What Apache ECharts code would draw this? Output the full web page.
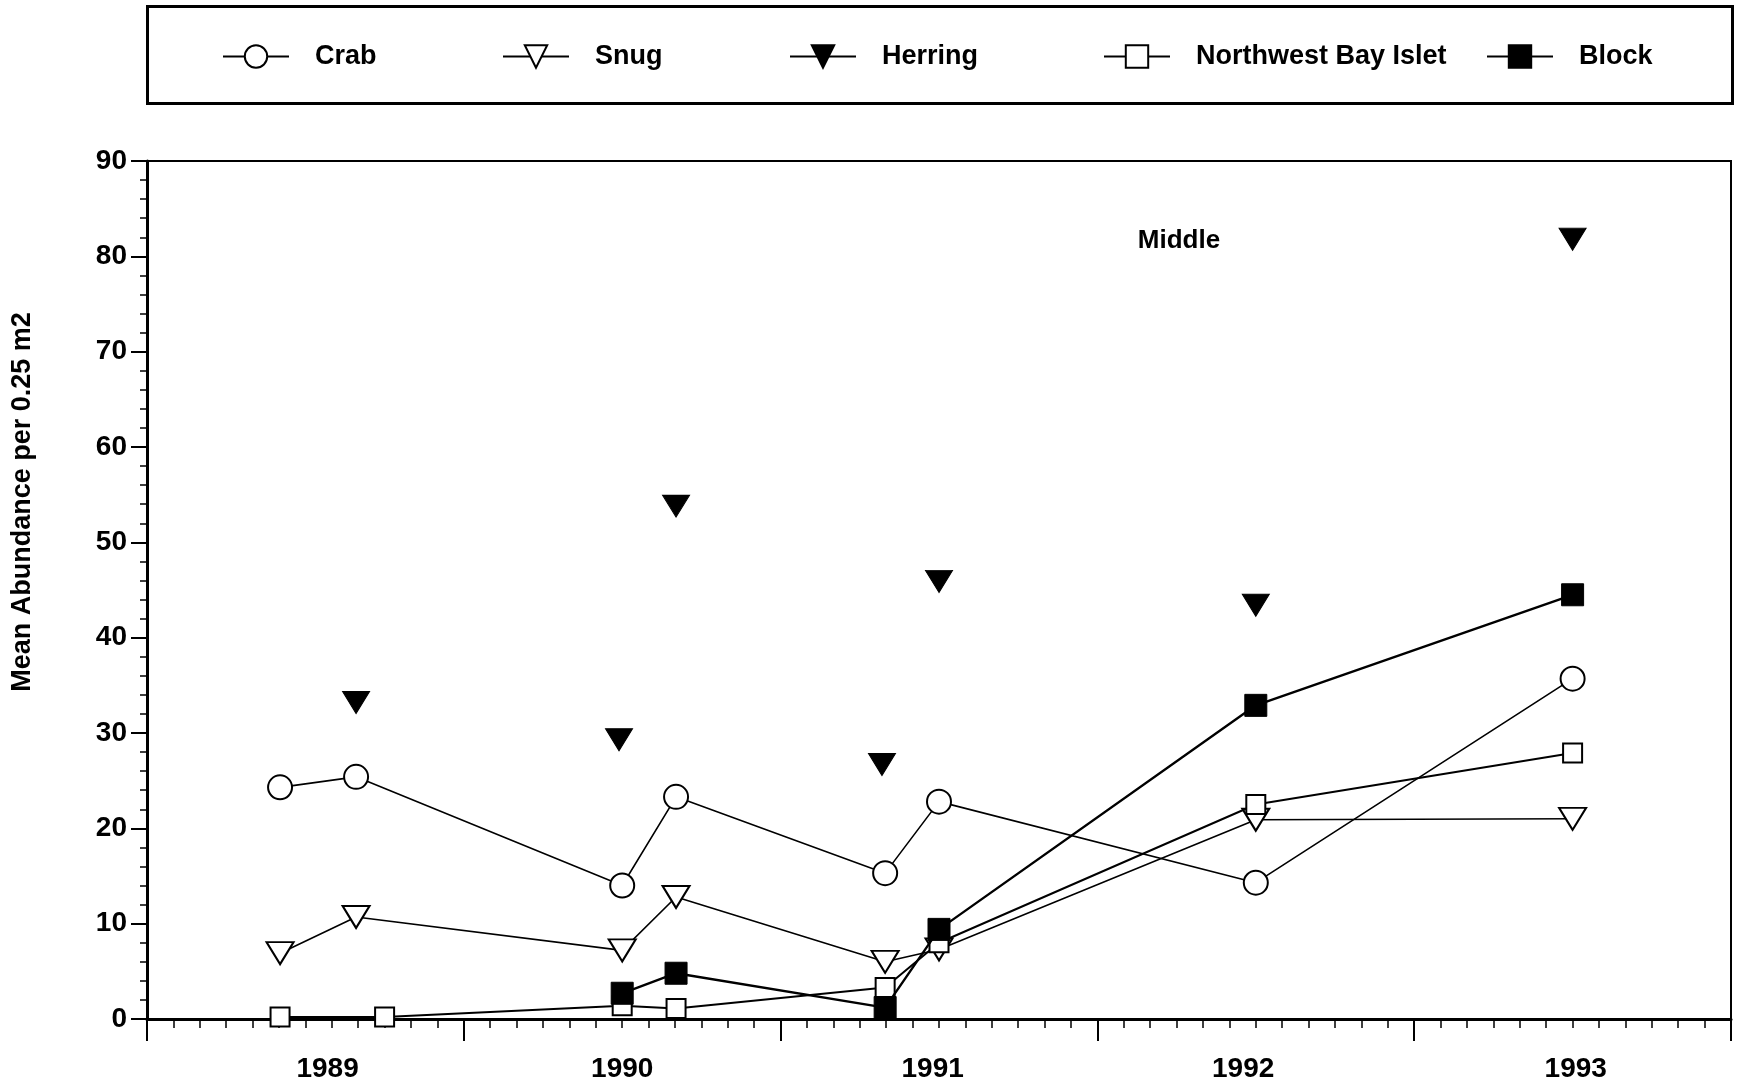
<!DOCTYPE html>
<html><head><meta charset="utf-8">
<script src="https://cdn.jsdelivr.net/npm/echarts@6/dist/echarts.min.js"></script>
<style>html,body{margin:0;padding:0;background:#fff}#c{width:1739px;height:1088px}</style>
</head><body><div id="c"></div>
<script>
// ---- data ----
const yearLabels = ['1989', '1990', '1991', '1992', '1993'];
const yearLabelAt = [1989.57, 1990.5, 1991.48, 1992.46, 1993.51];
const yTicks = [0, 10, 20, 30, 40, 50, 60, 70, 80, 90];

const crabX = [1989.42, 1989.66, 1990.5, 1990.67, 1991.33, 1991.5, 1992.5, 1993.5];
const crab  = [24.3, 25.4, 14.0, 23.3, 15.3, 22.8, 14.3, 35.7];

const snugX = [1989.42, 1989.66, 1990.5, 1990.67, 1991.33, 1991.5, 1992.5, 1993.5];
const snug  = [6.9, 10.7, 7.2, 12.8, 6.0, 7.3, 20.9, 21.0];

const herringX = [1989.66, 1990.49, 1990.67, 1991.32, 1991.5, 1992.5, 1993.5];
const herring  = [33.2, 29.3, 53.8, 26.7, 45.9, 43.4, 81.8];

const nwX = [1989.42, 1989.75, 1990.5, 1990.67, 1991.33, 1991.5, 1992.5, 1993.5];
const nw  = [0.2, 0.2, 1.4, 1.1, 3.3, 8.0, 22.5, 27.9];

const blockX = [1990.5, 1990.67, 1991.33, 1991.5, 1992.5, 1993.5];
const block  = [2.7, 4.8, 1.2, 9.4, 32.9, 44.5];

const zip = (xs, ys) => xs.map((x, i) => [x, ys[i]]);

const FONT = '"Liberation Sans", Arial, Helvetica, sans-serif';
const chart = echarts.init(document.getElementById('c'), null, {renderer: 'canvas'});

function legendAt(name, left, extra) {
  return Object.assign({
    data: [name], left: left, top: 38, padding: 0, orient: 'horizontal',
    itemWidth: 66, itemHeight: 28, selectedMode: false,
    textStyle: {fontFamily: FONT, fontSize: 27, fontWeight: 'bold', color: '#000', padding: [0, 0, 0, 21]}
  }, extra || {});
}

const option = {
  animation: false,
  backgroundColor: '#fff',
  grid: {left: 147, right: 8, top: 161, bottom: 69, show: true, borderColor: '#000', borderWidth: 2, backgroundColor: 'transparent'},
  legend: [
    legendAt('Crab', 222),
    legendAt('Snug', 502),
    legendAt('Herring', 789, {data: [{name: 'Herring', lineStyle: {opacity: 1, color: '#000', width: 2}}]}),
    legendAt('Northwest Bay Islet', 1103),
    legendAt('Block', 1486)
  ],
  graphic: [
    {type: 'rect', left: 145, top: 4, shape: {width: 1585, height: 97}, style: {fill: 'none', stroke: '#000', lineWidth: 3}, silent: true},
    {type: 'text', x: 1179, y: 241, style: {text: 'Middle', font: 'bold 26px ' + FONT, fill: '#000', align: 'center', verticalAlign: 'middle'}},
    {type: 'text', x: 23, y: 502, rotation: Math.PI / 2, style: {text: 'Mean Abundance per 0.25 m2', font: 'bold 27px ' + FONT, fill: '#000', align: 'center', verticalAlign: 'middle'}}
  ],
  xAxis: {
    type: 'value', min: 1989, max: 1994, interval: 1,
    axisLine: {show: true, lineStyle: {color: '#000', width: 3}},
    axisTick: {show: true, inside: false, length: 22, lineStyle: {color: '#000', width: 2}},
    minorTick: {show: true, splitNumber: 12, length: 9, lineStyle: {color: '#000', width: 1.5}},
    splitLine: {show: false},
    axisLabel: {
      customValues: yearLabelAt,
      formatter: (v) => { const i = yearLabelAt.findIndex(p => Math.abs(p - v) < 1e-6); return i >= 0 ? yearLabels[i] : ''; },
      margin: 36, fontFamily: FONT, fontSize: 28, fontWeight: 'bold', color: '#000'
    }
  },
  yAxis: {
    type: 'value', min: 0, max: 90, interval: 10,
    axisLine: {show: true, lineStyle: {color: '#000', width: 3}},
    axisTick: {show: true, inside: false, length: 16, lineStyle: {color: '#000', width: 2}},
    minorTick: {show: true, splitNumber: 5, length: 7, lineStyle: {color: '#000', width: 1.5}},
    splitLine: {show: false},
    axisLabel: {
      formatter: (v) => yTicks.includes(v) ? String(v) : '',
      margin: 20, fontFamily: FONT, fontSize: 28, fontWeight: 'bold', color: '#000'
    }
  },
  series: [
    {name: 'Crab', type: 'line', data: zip(crabX, crab), symbol: 'circle', symbolSize: 24,
     itemStyle: {color: '#fff', borderColor: '#000', borderWidth: 2}, lineStyle: {color: '#000', width: 1.6}, z: 2},
    {name: 'Snug', type: 'line', data: zip(snugX, snug), symbol: 'triangle', symbolRotate: 180, symbolSize: [27, 22],
     itemStyle: {color: '#fff', borderColor: '#000', borderWidth: 2}, lineStyle: {color: '#000', width: 1.6}, z: 3},
    {name: 'Herring', type: 'line', data: zip(herringX, herring), symbol: 'triangle', symbolRotate: 180, symbolSize: [27, 22],
     itemStyle: {color: '#000', borderColor: '#000', borderWidth: 1}, lineStyle: {color: '#000', width: 2, opacity: 0}, z: 4},
    {name: 'Northwest Bay Islet', type: 'line', data: zip(nwX, nw), symbol: 'rect', symbolSize: 19,
     itemStyle: {color: '#fff', borderColor: '#000', borderWidth: 2}, lineStyle: {color: '#000', width: 2}, z: 5},
    {name: 'Block', type: 'line', data: zip(blockX, block), symbol: 'rect', symbolSize: 22,
     itemStyle: {color: '#000', borderColor: '#000', borderWidth: 1}, lineStyle: {color: '#000', width: 2.4}, z: 6}
  ]
};
// vertical legend offset to match reference
option.legend.forEach(l => { l.top = 43; });
chart.setOption(option);
</script>
</body></html>
